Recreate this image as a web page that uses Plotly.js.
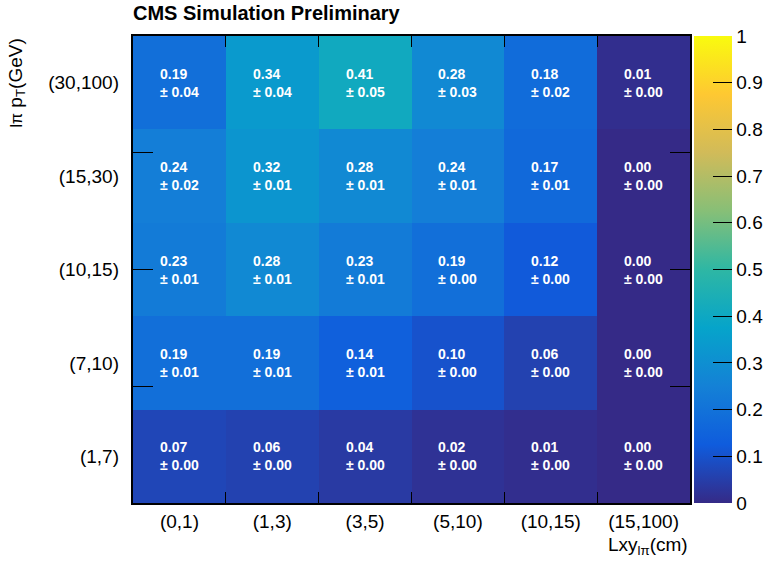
<!DOCTYPE html>
<html>
<head>
<meta charset="utf-8">
<script src="https://cdn.plot.ly/plotly-3.0.1.min.js"></script>
<style>html,body{margin:0;padding:0;background:#fff;}#chart{width:768px;height:563px;}</style>
</head>
<body>
<div id="chart"></div>
<script>
// Data
const xLabels = ["(0,1)", "(1,3)", "(3,5)", "(5,10)", "(10,15)", "(15,100)"];
const yLabels = ["(1,7)", "(7,10)", "(10,15)", "(15,30)", "(30,100)"];
// efficiency values, rows bottom -> top
const eff_1_7    = [0.07, 0.06, 0.04, 0.02, 0.01, 0.00];
const eff_7_10   = [0.19, 0.19, 0.14, 0.10, 0.06, 0.00];
const eff_10_15  = [0.23, 0.28, 0.23, 0.19, 0.12, 0.00];
const eff_15_30  = [0.24, 0.32, 0.28, 0.24, 0.17, 0.00];
const eff_30_100 = [0.19, 0.34, 0.41, 0.28, 0.18, 0.01];
// uncertainties
const err_1_7    = [0.00, 0.00, 0.00, 0.00, 0.00, 0.00];
const err_7_10   = [0.01, 0.01, 0.01, 0.00, 0.00, 0.00];
const err_10_15  = [0.01, 0.01, 0.01, 0.00, 0.00, 0.00];
const err_15_30  = [0.02, 0.01, 0.01, 0.01, 0.01, 0.00];
const err_30_100 = [0.04, 0.04, 0.05, 0.03, 0.02, 0.00];
const colorTicks = [0, 0.1, 0.2, 0.3, 0.4, 0.5, 0.6, 0.7, 0.8, 0.9, 1];

const Z = [eff_1_7, eff_7_10, eff_10_15, eff_15_30, eff_30_100];
const E = [err_1_7, err_7_10, err_10_15, err_15_30, err_30_100];

const xc = xLabels.map((_, i) => i + 0.5);
const yc = yLabels.map((_, j) => j + 0.5);

// ROOT kBird palette
const bird = [
  [0.000, 'rgb(53,42,135)'],
  [0.125, 'rgb(15,92,221)'],
  [0.250, 'rgb(20,129,214)'],
  [0.375, 'rgb(6,164,202)'],
  [0.500, 'rgb(46,183,164)'],
  [0.625, 'rgb(135,191,119)'],
  [0.750, 'rgb(209,187,89)'],
  [0.875, 'rgb(254,200,50)'],
  [1.000, 'rgb(249,251,14)']
];

const FONT = 'Liberation Sans, Arial, sans-serif';

const trace = {
  type: 'heatmap',
  x: xc, y: yc, z: Z,
  zmin: 0, zmax: 1,
  colorscale: bird,
  hoverinfo: 'skip',
  colorbar: {
    x: 1.0072, xanchor: 'left', xpad: 0,
    y: 0.5, yanchor: 'middle', ypad: 0,
    len: 1, lenmode: 'fraction',
    thickness: 38,
    outlinewidth: 0,
    tickmode: 'array', tickvals: colorTicks, ticktext: colorTicks.map(String),
    ticks: 'inside', ticklen: 19, tickwidth: 1, tickcolor: '#000',
    tickfont: {family: FONT, size: 19, color: '#000'}
  }
};

const annotations = [];
Z.forEach((row, j) => row.forEach((v, i) => {
  annotations.push({
    x: xc[i], y: yc[j], xref: 'x', yref: 'y',
    text: v.toFixed(2) + '<br>± ' + E[j][i].toFixed(2),
    showarrow: false, align: 'left', xanchor: 'center', yanchor: 'middle',
    font: {family: FONT, size: 14, color: '#fff', weight: 'bold'}
  });
}));
annotations.push({
  xref: 'paper', yref: 'paper', x: (16 - 133) / 557, y: 1.0,
  xanchor: 'center', yanchor: 'top', textangle: -90, showarrow: false,
  text: '<span style="font-size:16px">lπ</span> p<sub>T</sub>(GeV)',
  font: {family: FONT, size: 19, color: '#000'}
});
annotations.push({
  xref: 'paper', yref: 'paper', x: 1.0, y: -0.062,
  xanchor: 'right', yanchor: 'top', showarrow: false,
  text: 'Lxy<sub>lπ</sub>(cm)',
  font: {family: FONT, size: 19, color: '#000'}
});

const layout = {
  width: 768, height: 563,
  margin: {l: 133, r: 78, t: 36, b: 60, pad: 0, autoexpand: false},
  paper_bgcolor: '#fff', plot_bgcolor: '#fff',
  showlegend: false,
  title: {
    text: '<b>CMS Simulation Preliminary</b>',
    x: 133 / 768, xanchor: 'left', xref: 'container',
    y: 1 - 13 / 563, yanchor: 'middle', yref: 'container',
    font: {family: FONT, size: 20, color: '#000'}
  },
  xaxis: {
    range: [0, 6], tickmode: 'array', tickvals: [1, 2, 3, 4, 5],
    ticks: 'inside', ticklen: 11, tickwidth: 1, tickcolor: '#000',
    showticklabels: false, showgrid: false, zeroline: false,
    showline: true, linecolor: '#000', linewidth: 2, mirror: 'ticks'
  },
  xaxis2: {
    overlaying: 'x', side: 'bottom', range: [0, 6],
    tickmode: 'array', tickvals: xc, ticktext: xLabels,
    ticks: '', showgrid: false, zeroline: false, showline: false,
    ticklabelstandoff: 5,
    tickfont: {family: FONT, size: 19, color: '#000'}
  },
  yaxis: {
    range: [0, 5], tickmode: 'array', tickvals: [1.25, 2.5, 3.75],
    ticks: 'inside', ticklen: 20, tickwidth: 1, tickcolor: '#000',
    showticklabels: false, showgrid: false, zeroline: false,
    showline: true, linecolor: '#000', linewidth: 2, mirror: 'ticks'
  },
  yaxis2: {
    overlaying: 'y', side: 'left', range: [0, 5],
    tickmode: 'array', tickvals: yc, ticktext: yLabels,
    ticks: '', showgrid: false, zeroline: false, showline: false,
    ticklabelstandoff: 13,
    tickfont: {family: FONT, size: 19, color: '#000'}
  },
  annotations: annotations
};

// invisible helper trace to activate the overlay label axes
const helper = {type: 'scatter', x: [0.5], y: [0.5], xaxis: 'x2', yaxis: 'y2', mode: 'markers',
  marker: {opacity: 0}, hoverinfo: 'skip', showlegend: false};

Plotly.newPlot('chart', [trace, helper], layout, {displayModeBar: false, staticPlot: true});
</script>
</body>
</html>
